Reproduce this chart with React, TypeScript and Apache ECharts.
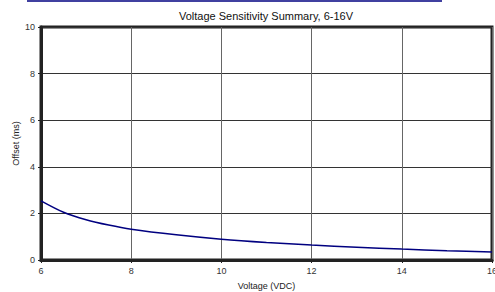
import React, { useEffect, useRef } from "react";
import * as echarts from "echarts";

const voltage = [6, 6.5, 7, 7.5, 8, 9, 10, 11, 12, 13, 14, 15, 16];
const offset = [2.54, 2.05, 1.73, 1.5, 1.32, 1.08, 0.89, 0.75, 0.64, 0.55, 0.47, 0.4, 0.34];
const title = "Voltage Sensitivity Summary, 6-16V";
const xName = "Voltage (VDC)";
const yName = "Offset (ms)";

export default function App() {
  const ref = useRef<HTMLDivElement>(null);
  useEffect(() => {
    if (!ref.current) return;
    const chart = echarts.init(ref.current, null, { renderer: "svg" });
    const font = "Liberation Sans, Arial, sans-serif";
    chart.setOption({
      animation: false,
      backgroundColor: "#ffffff",
      textStyle: { fontFamily: font },
      title: {
        text: title,
        left: 261,
        textAlign: "center",
        top: 5,
        textStyle: { fontSize: 11, fontWeight: "normal", color: "#111", fontFamily: font },
      },
      graphic: [
        {
          type: "line",
          shape: { x1: 27, y1: 1, x2: 442, y2: 1 },
          style: { stroke: "#000080", lineWidth: 1.5 },
        },
      ],
      grid: {
        left: 41,
        right: 3,
        top: 27,
        bottom: 32,
        containLabel: false,
        outerBoundsMode: "none",
        show: true,
        borderColor: "#222",
        borderWidth: 3,
      },
      xAxis: {
        type: "value",
        min: 6,
        max: 16,
        interval: 2,
        name: xName,
        nameLocation: "middle",
        nameGap: 21,
        nameMoveOverlap: false,
        nameTextStyle: { fontSize: 9, color: "#222", fontFamily: font },
        axisLine: { show: true, lineStyle: { color: "#222", width: 3 } },
        axisTick: { show: true, length: 3, lineStyle: { color: "#222", width: 1 } },
        axisLabel: { fontSize: 9, color: "#333", margin: 6, fontFamily: font },
        splitLine: { show: true, lineStyle: { color: "#666", width: 1 } },
      },
      yAxis: {
        type: "value",
        min: 0,
        max: 10,
        interval: 2,
        name: yName,
        nameLocation: "middle",
        nameGap: 21,
        nameMoveOverlap: false,
        nameTextStyle: { fontSize: 9, color: "#222", fontFamily: font },
        axisLine: { show: true, lineStyle: { color: "#222", width: 3 } },
        axisTick: { show: true, length: 3, lineStyle: { color: "#222", width: 1 } },
        axisLabel: { fontSize: 9, color: "#333", margin: 6, fontFamily: font },
        splitLine: { show: true, lineStyle: { color: "#333", width: 1 } },
      },
      series: [
        {
          type: "line",
          data: voltage.map((v, i) => [v, offset[i]]),
          smooth: 0.3,
          showSymbol: false,
          lineStyle: { color: "#000080", width: 1.5 },
          itemStyle: { color: "#000080" },
        },
      ],
    });
    return () => chart.dispose();
  }, []);
  return (
    <div
      ref={ref}
      style={{ position: "fixed", left: 0, top: 0, width: 495, height: 292 }}
    />
  );
}
